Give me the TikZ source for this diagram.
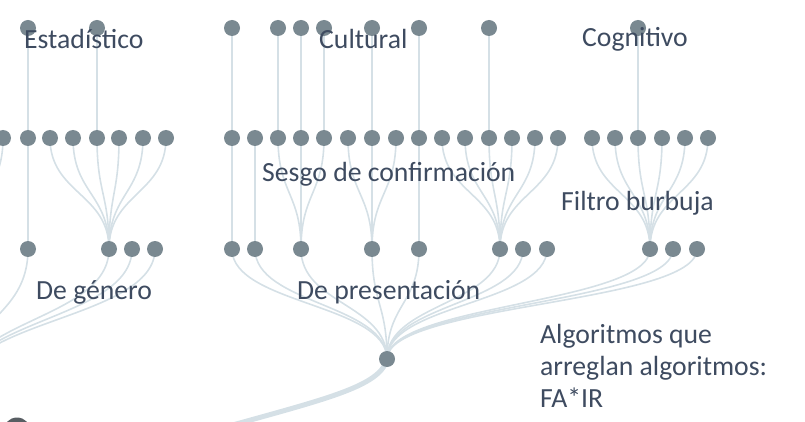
\documentclass[tikz,border=0pt]{standalone}
\usepackage{fontspec}
\setmainfont{Carlito}
\usetikzlibrary{backgrounds}

\definecolor{dotgray}{RGB}{122,137,145}
\definecolor{basegray}{RGB}{88,94,99}
\definecolor{linkblue}{RGB}{213,224,230}
\definecolor{labelink}{RGB}{62,75,96}

\tikzset{
  dotnode/.style={circle, fill=dotgray, inner sep=0pt, minimum size=16pt},
  linkline/.style={draw=linkblue, line width=1.6pt},
  trunkline/.style={draw=linkblue, line width=5pt},
  lbl/.style={anchor=base west, inner sep=0pt, text=labelink,
              font=\fontsize{27.7}{32}\selectfont}
}

% curved drop from one level to the next
\newcommand\linkdown[3]{\draw[linkline] (#1.center) .. controls +(0,#3) and +(0,-#3) .. (#2.center);}

\begin{document}
\begin{tikzpicture}[x=1pt, y=-1pt]
  \useasboundingbox (0,0) rectangle (805,422);
  \clip (0,0) rectangle (805,422);

  % Nodes per level
  \foreach \x in {28,97,232,278,301,324,372,419,489,638}
    \node[dotnode] (t\x) at (\x,28) {};
  \foreach \x in {3,28,50,73,97,119,143,166,232,255,278,301,324,348,372,396,419,442,465,489,512,535,558,592,615,638,662,685,708}
    \node[dotnode] (m\x) at (\x,138) {};
  \foreach \x in {28,109,132,155,232,255,301,372,419,500,523,547,650,673,697}
    \node[dotnode] (b\x) at (\x,249) {};
  \node[dotnode] (root) at (387,359) {};
  \node[dotnode, fill=basegray, minimum size=27pt] (basenode) at (17,431) {};

  % Off-screen ends
  \coordinate (lroot) at (-40,390);
  \coordinate (lb) at (-30,249);
  \coordinate (upper) at (180,440);

  % Links
  \begin{scope}[on background layer]
    \foreach \x in {28,97,232,278,301,324,372,419,489,638}
      \draw[linkline] (t\x) -- (m\x);
    \linkdown{m3}{lb}{55.5}
    \linkdown{m28}{b28}{55.5}
    \foreach \x in {50,73,97,119,143,166} {\linkdown{m\x}{b109}{55.5}}
    \linkdown{m232}{b232}{55.5}
    \linkdown{m255}{b255}{55.5}
    \foreach \x in {278,301,324} {\linkdown{m\x}{b301}{55.5}}
    \foreach \x in {348,372,396} {\linkdown{m\x}{b372}{55.5}}
    \linkdown{m419}{b419}{55.5}
    \foreach \x in {442,465,489,512,535,558} {\linkdown{m\x}{b500}{55.5}}
    \foreach \x in {592,615,638,662,685,708} {\linkdown{m\x}{b650}{55.5}}
    \foreach \x in {28,109,132,155} {\linkdown{b\x}{lroot}{70.5}}
    \foreach \x in {232,255,301,372,419,500,523,547,650,673,697} {\linkdown{b\x}{root}{55}}
    \draw[trunkline] (root.center) .. controls +(-7,31) and +(130,-38) .. (upper);
  \end{scope}

  % Labels
  \node[lbl] (estad) at (24,49) {Estadístico};
  \node[lbl] (cult) at (319,49) {Cultural};
  \node[lbl] (cogn) at (582,47) {Cognitivo};
  \node[lbl] (sesgo) at (262,182) {Sesgo de confirmación};
  \node[lbl] (filtro) at (561,211) {Filtro burbuja};
  \node[lbl] (genero) at (36,299) {De género};
  \node[lbl] (present) at (297,299) {De presentación};
  \node[lbl, align=left] (fair) at (540,407) {Algoritmos que\\arreglan algoritmos:\\FA*IR};
\end{tikzpicture}
\end{document}
